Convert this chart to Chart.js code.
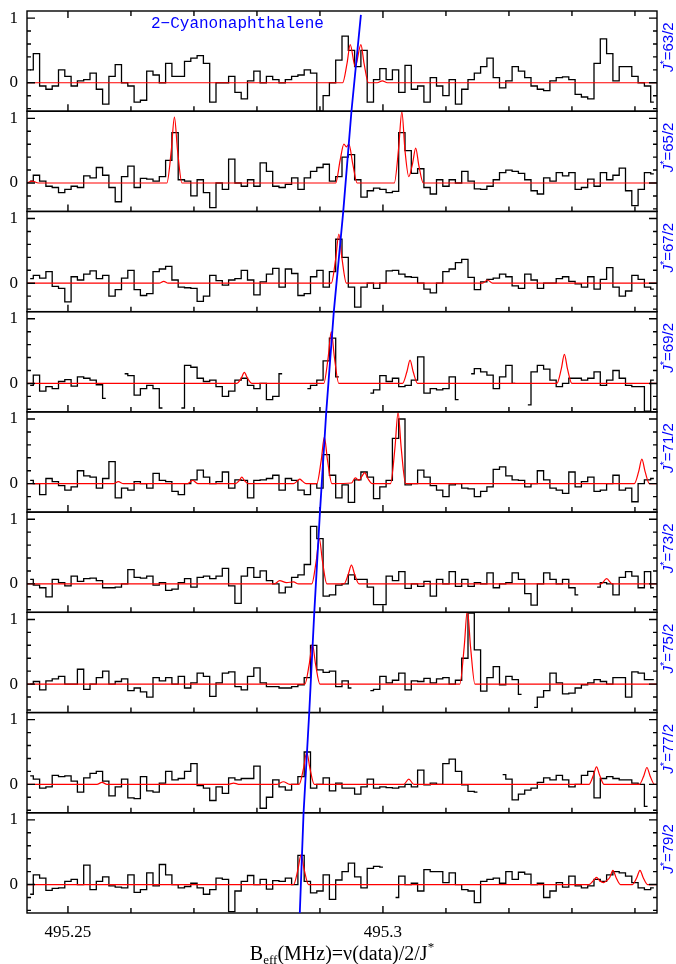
<!DOCTYPE html>
<html>
<head>
<meta charset="utf-8">
<script src="https://cdn.jsdelivr.net/npm/chart.js@4/dist/chart.umd.min.js"></script>
<style>
  html, body { margin: 0; padding: 0; background: #fff; }
  canvas { display: block; }
</style>
</head>
<body>
<canvas id="spec" width="676" height="964"></canvas>
<script>
// channel grid in B_eff (MHz), shared by all nine panels
const X_MIN = 495.2435, X_MAX = 495.3435, CHAN = 0.001;
const Y_MIN = -0.44, Y_MAX = 1.11;

const J_LABELS = ['63/2', '65/2', '67/2', '69/2', '71/2', '73/2', '75/2', '77/2', '79/2'];
const X_TICKS = [495.25, 495.26, 495.27, 495.28, 495.29, 495.30, 495.31, 495.32, 495.33, 495.34];
const X_MAJOR = [495.25, 495.30];
const X_LABELS = ['495.25', '495.3'];
const Y_TICKS = [-0.4, -0.2, 0, 0.2, 0.4, 0.6, 0.8, 1.0];
const Y_MAJOR = [0, 1];

// observed spectra, one value per channel (null = no data)
const spec63 = [0.2,0.45,-0.05,-0.1,-0.05,0.2,0.1,-0.05,0.03,0.05,
  0.15,-0.1,-0.33,0.1,0.28,0.0,-0.05,-0.3,-0.27,0.18,
  0.12,0.0,0.3,0.1,0.1,0.33,0.38,0.42,0.3,-0.3,
  0.0,0.0,0.1,-0.15,-0.25,0.03,0.18,0.0,0.1,0.05,
  0.0,0.05,0.1,0.12,0.2,0.15,-0.44,-0.2,0.0,0.35,
  0.72,0.5,0.25,0.5,-0.3,0.05,0.22,0.05,0.2,-0.15,
  0.27,-0.1,-0.05,-0.3,0.08,-0.05,-0.2,0.05,-0.33,-0.1,
  0.05,0.15,0.25,0.38,0.08,-0.08,0.03,0.25,0.18,0.08,
  -0.05,-0.1,-0.12,0.03,0.08,0.09,0.05,-0.18,-0.22,-0.25,
  0.3,0.68,0.45,0.03,0.25,0.25,0.1,0.0,-0.05,-0.3];
const spec65 = [0.03,0.12,0.03,-0.05,-0.07,-0.15,-0.1,-0.05,-0.07,0.11,
  0.08,0.24,0.12,-0.07,-0.29,0.1,0.26,-0.07,0.07,0.06,
  0.03,0.1,0.35,0.78,0.05,0.03,-0.2,0.05,-0.15,-0.38,
  0.0,-0.1,0.37,0.0,-0.05,0.05,-0.05,0.31,0.18,-0.05,
  -0.07,-0.02,0.08,-0.1,0.08,0.18,0.24,0.29,0.03,0.1,
  0.4,0.44,0.05,-0.22,-0.12,-0.08,-0.1,-0.15,-0.13,0.78,
  0.5,0.15,0.22,-0.07,-0.17,0.05,-0.05,0.05,0.0,0.18,
  0.03,-0.09,-0.1,-0.05,0.05,0.16,0.2,0.18,0.15,0.05,
  -0.12,-0.17,0.08,0.03,0.16,0.11,0.16,-0.1,-0.07,0.06,
  -0.05,0.16,0.05,0.12,0.23,-0.12,-0.35,-0.1,0.16,0.14];
const spec67 = [0.07,0.12,0.08,0.18,-0.05,-0.08,-0.29,0.1,0.05,0.14,
  0.19,0.07,0.12,-0.2,-0.1,0.08,0.2,-0.1,-0.19,-0.16,
  0.18,0.22,0.26,0.05,-0.06,-0.07,-0.08,-0.28,-0.2,0.12,
  0.04,-0.03,0.05,0.07,0.2,0.05,-0.18,0.02,0.14,0.23,
  -0.06,0.22,0.15,-0.19,-0.16,0.1,0.2,-0.06,0.18,0.68,
  0.4,-0.06,-0.37,-0.06,0.0,-0.08,0.0,0.19,0.2,0.14,
  0.1,0.09,0.0,-0.09,-0.15,0.0,0.18,0.22,0.32,0.37,
  0.09,-0.1,0.02,0.06,0.08,0.14,0.1,-0.04,-0.08,0.14,
  0.05,-0.08,0.0,0.0,0.07,0.1,0.03,-0.01,-0.06,0.1,
  -0.09,0.06,0.24,-0.06,-0.2,-0.12,0.12,0.06,-0.06,-0.09];
const spec69 = [-0.03,0.13,-0.12,-0.05,-0.08,0.03,0.06,-0.04,0.1,0.08,
  0.05,-0.02,-0.23,null,null,0.15,0.12,-0.18,-0.08,-0.03,
  -0.08,-0.38,null,null,-0.38,0.28,0.25,0.08,0.03,0.05,
  -0.05,-0.2,-0.12,0.05,0.08,-0.03,-0.08,0.0,-0.25,-0.2,
  0.15,null,null,null,-0.08,-0.03,0.05,0.35,0.7,0.1,
  null,null,null,null,-0.15,-0.1,0.12,0.03,0.08,-0.05,
  -0.03,0.05,0.41,-0.15,-0.08,-0.1,-0.08,0.1,-0.25,null,
  0.15,0.23,0.18,0.13,-0.08,0.1,0.28,0.0,null,-0.33,
  0.18,0.28,0.22,0.05,-0.05,0.0,0.08,0.08,0.05,0.08,
  0.18,-0.03,0.05,0.2,0.08,-0.03,-0.05,-0.05,-0.43,0.05];
const spec71 = [0.05,0.0,-0.17,0.08,0.03,-0.03,-0.1,-0.05,0.2,0.12,
  0.1,-0.07,0.08,0.34,-0.22,-0.07,-0.1,0.03,0.0,-0.07,
  0.16,0.05,0.03,-0.12,-0.17,0.0,0.06,0.21,0.1,0.0,
  0.03,0.18,-0.07,0.06,0.05,-0.22,0.05,0.06,0.08,0.13,
  -0.1,0.08,0.05,-0.1,-0.17,0.0,-0.07,0.45,0.13,-0.22,
  -0.02,-0.29,0.06,0.18,0.1,-0.23,-0.05,0.05,0.7,1.0,
  -0.02,0.0,0.21,0.1,-0.03,-0.1,-0.2,-0.02,0.0,-0.07,
  -0.08,-0.2,-0.12,-0.05,0.22,0.26,0.12,0.06,0.05,-0.05,
  0.0,0.2,0.06,-0.07,-0.1,-0.15,0.18,-0.05,0.03,0.1,
  -0.12,-0.1,0.0,0.13,-0.1,-0.07,-0.28,0.0,0.06,0.08];
const spec73 = [0.07,-0.02,-0.06,-0.2,0.07,0.02,-0.03,0.12,0.04,0.08,
  0.09,0.05,-0.06,-0.06,-0.05,0.0,0.22,0.1,0.09,0.12,
  -0.02,0.02,-0.1,-0.08,0.02,0.08,-0.05,0.1,0.12,0.08,
  0.12,0.24,-0.03,-0.3,0.12,0.25,0.1,0.2,0.05,0.0,
  -0.14,-0.05,0.1,0.14,0.3,0.89,0.7,-0.19,-0.17,-0.02,
  0.0,0.14,0.07,0.07,-0.05,-0.32,-0.32,0.12,0.05,0.19,
  -0.07,0.0,-0.04,0.04,-0.19,0.07,0.0,0.19,-0.04,0.07,
  -0.04,0.02,0.0,0.17,-0.06,0.0,0.02,0.17,0.07,-0.15,
  -0.33,0.0,0.17,0.07,0.0,0.07,-0.06,-0.17,null,null,
  -0.05,0.02,0.0,-0.17,0.1,0.19,0.12,-0.06,0.19,-0.06];
const spec75 = [0.0,0.04,-0.09,0.05,0.08,0.12,0.0,0.0,0.23,-0.08,
  0.0,0.1,0.2,0.0,0.04,0.08,-0.1,-0.06,-0.12,-0.2,
  0.1,0.05,0.1,0.0,0.12,-0.06,0.02,0.17,0.12,-0.19,
  0.02,0.17,0.19,-0.04,-0.09,0.12,0.25,0.02,-0.04,-0.04,
  -0.06,-0.06,-0.04,-0.01,0.1,0.6,0.22,0.18,0.2,-0.04,
  0.05,-0.06,null,null,-0.1,-0.08,0.12,0.02,0.06,0.17,
  -0.09,0.05,0.04,0.09,0.02,0.08,0.1,0.0,0.06,0.4,
  1.1,0.53,-0.11,0.1,0.27,-0.01,0.12,0.07,-0.16,null,
  -0.36,-0.2,-0.1,0.17,0.02,-0.15,-0.14,-0.06,-0.01,0.02,
  0.07,0.04,0.0,0.1,0.1,-0.2,0.19,0.17,0.07,0.07];
const spec77 = [0.13,0.08,-0.06,-0.04,0.14,0.12,0.13,0.05,-0.12,0.1,
  0.17,0.2,0.05,-0.18,-0.04,0.08,-0.21,-0.22,0.12,-0.1,
  -0.12,0.02,0.2,0.07,0.09,0.2,0.32,-0.02,-0.06,-0.25,
  -0.04,-0.14,0.1,0.07,0.09,0.09,0.28,-0.37,-0.2,0.07,
  -0.04,-0.09,0.0,0.12,0.5,-0.06,0.0,0.1,-0.1,0.02,
  -0.06,-0.06,-0.15,-0.04,0.08,-0.06,-0.04,-0.05,-0.06,-0.04,
  0.0,-0.04,0.22,-0.01,0.02,0.0,0.32,0.39,0.2,-0.01,
  -0.11,-0.12,null,null,null,0.15,0.08,-0.24,-0.15,-0.09,
  -0.06,0.03,0.1,0.07,0.14,0.07,-0.04,0.0,0.14,0.2,
  -0.21,0.09,0.12,0.09,0.07,0.07,0.02,0.0,-0.34,null];
const spec79 = [-0.15,0.15,0.1,-0.09,-0.06,-0.05,0.05,0.08,0.0,0.3,
  -0.08,0.05,0.12,-0.02,-0.04,-0.05,0.15,-0.12,-0.08,0.18,
  -0.02,0.31,0.15,0.0,-0.05,-0.03,0.02,-0.05,-0.15,-0.08,
  0.1,0.08,-0.42,-0.1,0.05,0.14,0.0,0.08,-0.07,0.06,
  0.05,0.1,0.0,0.45,0.05,-0.13,-0.1,0.15,-0.23,0.07,
  0.2,0.33,0.12,-0.05,0.25,0.28,0.27,null,-0.2,0.13,
  0.0,0.02,-0.1,0.23,0.2,0.2,0.03,0.18,0.0,-0.08,
  -0.1,-0.28,0.05,0.08,0.1,0.02,0.2,0.08,0.19,0.16,
  0.0,0.02,-0.2,-0.1,0.03,-0.04,0.13,-0.02,-0.05,-0.02,
  0.08,0.05,0.15,0.2,0.18,0.13,0.03,-0.05,-0.08,-0.05];

// model spectra as [B_eff, intensity] knots
const model63 = [[495.2435,0],[495.2936,0],[495.2943,0.3],[495.2948,0.59],[495.2956,0.25],[495.2965,0.59],
  [495.2970,0.3],[495.2977,0],[495.2991,0],[495.2999,0.03],[495.3007,0],[495.3435,0]];
const model65 = [[495.2435,0],[495.2443,0.03],[495.2453,0],[495.2657,0],[495.2664,0.5],[495.2669,1.02],
  [495.2674,0.5],[495.2681,0],[495.2925,0],[495.2932,0.35],[495.2938,0.6],[495.2942,0.56],[495.2946,0.6],
  [495.2952,0.3],[495.2959,0],[495.3018,0],[495.3025,0.55],[495.3030,1.1],[495.3035,0.5],[495.3041,0.1],
  [495.3047,0.3],[495.3052,0.54],[495.3057,0.27],[495.3064,0],[495.3435,0]];
const model67 = [[495.2435,0],[495.2645,0],[495.2652,0.03],[495.2659,0],[495.2918,0],[495.2925,0.38],
  [495.2930,0.76],[495.2935,0.38],[495.2942,0],[495.3158,0],[495.3166,0.05],[495.3174,0],[495.3435,0]];
const model69 = [[495.2435,0],[495.2768,0],[495.2775,0.08],[495.2780,0.17],[495.2785,0.08],[495.2792,0],
  [495.2906,0],[495.2913,0.4],[495.2918,0.8],[495.2923,0.4],[495.2930,0],[495.3031,0],[495.3038,0.18],
  [495.3043,0.36],[495.3048,0.18],[495.3055,0],[495.3276,0],[495.3283,0.22],[495.3288,0.45],[495.3293,0.22],
  [495.3300,0],[495.3435,0]];
const model71 = [[495.2435,0],[495.2572,0],[495.2580,0.03],[495.2588,0],[495.2690,0],[495.2698,0.05],
  [495.2706,0],[495.2766,0],[495.2772,0.05],[495.2776,0.1],[495.2780,0.05],[495.2786,0],[495.2858,0],
  [495.2864,0.04],[495.2868,0.07],[495.2872,0.04],[495.2878,0],[495.2895,0],[495.2902,0.36],[495.2907,0.72],
  [495.2912,0.36],[495.2919,0],[495.2950,0.01],[495.2956,0.09],[495.2962,0.05],[495.2967,0.12],[495.2971,0.17],
  [495.2976,0.08],[495.2983,0],[495.3012,0],[495.3019,0.55],[495.3024,1.1],[495.3029,0.55],[495.3036,0],
  [495.3399,0],[495.3406,0.19],[495.3411,0.38],[495.3416,0.19],[495.3423,0],[495.3435,0]];
const model73 = [[495.2435,0],[495.2828,0],[495.2836,0.05],[495.2847,0.02],[495.2858,0.03],[495.2866,0],
  [495.2887,0],[495.2894,0.35],[495.2899,0.7],[495.2904,0.35],[495.2911,0],[495.2938,0],[495.2945,0.15],
  [495.2950,0.29],[495.2955,0.15],[495.2962,0],[495.3346,0],[495.3355,0.08],[495.3364,0],[495.3435,0]];
const model75 = [[495.2435,0],[495.2876,0],[495.2883,0.31],[495.2888,0.62],[495.2893,0.31],[495.2900,0],
  [495.3122,0],[495.3129,0.58],[495.3134,1.15],[495.3139,0.58],[495.3146,0],[495.3435,0]];
const model77 = [[495.2435,0],[495.2546,0],[495.2554,0.03],[495.2562,0],[495.2755,0],[495.2763,0.02],
  [495.2771,0],[495.2832,0],[495.2842,0.04],[495.2852,0],[495.2867,0],[495.2874,0.25],[495.2879,0.5],
  [495.2884,0.25],[495.2891,0],[495.3033,0],[495.3041,0.08],[495.3049,0],[495.3327,0],[495.3334,0.14],
  [495.3339,0.27],[495.3344,0.14],[495.3351,0],[495.3407,0],[495.3414,0.13],[495.3419,0.26],[495.3424,0.13],
  [495.3431,0],[495.3435,0]];
const model79 = [[495.2435,0],[495.2858,0],[495.2865,0.23],[495.2870,0.46],[495.2875,0.23],[495.2882,0],
  [495.3327,0],[495.3334,0.06],[495.3339,0.11],[495.3344,0.06],[495.3350,0.03],[495.3355,0.06],[495.3360,0.11],
  [495.3365,0.22],[495.3370,0.11],[495.3377,0],[495.3396,0],[495.3403,0.11],[495.3408,0.22],[495.3413,0.11],
  [495.3420,0],[495.3435,0]];

// line position at each panel boundary, top of first panel down to bottom of last
const BLUE_X = [495.2965, 495.2950, 495.2937, 495.2922, 495.2910, 495.2900, 495.2891, 495.2883, 495.2874, 495.2868];
const BLUE_TOP = 1.05;

const SPECTRA = [spec63, spec65, spec67, spec69, spec71, spec73, spec75, spec77, spec79];
const MODELS = [model63, model65, model67, model69, model71, model73, model75, model77, model79];

const near = (a, b) => Math.abs(a - b) < 1e-6;

const datasets = [];
SPECTRA.forEach((vals, k) => {
  datasets.push({
    data: vals.map((v, i) => ({ x: X_MIN + (i + 0.5) * CHAN, y: v })),
    xAxisID: 'x', yAxisID: 'y' + k,
    stepped: 'middle', borderColor: '#000', borderWidth: 1.3,
    pointRadius: 0, order: 2
  });
  datasets.push({
    data: MODELS[k].map(p => ({ x: p[0], y: p[1] })),
    xAxisID: 'x', yAxisID: 'y' + k,
    cubicInterpolationMode: 'monotone', borderColor: '#ff0000', borderWidth: 1.2,
    pointRadius: 0, order: 1
  });
});

const scales = {
  x: {
    type: 'linear', position: 'bottom', min: X_MIN, max: X_MAX,
    grid: { display: false, drawTicks: false }, border: { display: false },
    ticks: { display: false },
    afterFit: s => { s.height = 51; s.paddingLeft = 0; s.paddingRight = 0; }
  }
};
// left-side stacks are laid out from the last-added axis down, so add the bottom panel first
for (let k = SPECTRA.length - 1; k >= 0; k--) {
  scales['y' + k] = {
    type: 'linear', position: 'left', stack: 'panels', stackWeight: 1,
    min: Y_MIN, max: Y_MAX,
    grid: { display: false, drawTicks: false }, border: { display: false },
    afterFit: s => { s.width = 27; s.paddingTop = 0; s.paddingBottom = 0; },
    ticks: {
      stepSize: 0.2, includeBounds: false, autoSkip: false, padding: 9,
      color: '#000', font: { family: 'Liberation Serif', size: 17 },
      callback: v => near(v, 1) ? '1' : near(v, 0) ? '0' : ''
    }
  };
}

function richText(ctx, parts, x, y, align) {
  let w = 0;
  parts.forEach(p => { ctx.font = p[1]; w += ctx.measureText(p[0]).width; });
  let cx = align === 'center' ? x - w / 2 : x;
  parts.forEach(p => {
    ctx.font = p[1];
    ctx.fillText(p[0], cx, y + p[2]);
    cx += ctx.measureText(p[0]).width;
  });
}

const panelFrames = {
  id: 'panelFrames',
  afterDatasetsDraw(chart) {
    const ctx = chart.ctx, xs = chart.scales.x;
    const L = xs.left, R = xs.right;
    ctx.save();
    ctx.strokeStyle = '#000';
    ctx.lineWidth = 1.4;
    SPECTRA.forEach((_, k) => {
      const ys = chart.scales['y' + k];
      ctx.strokeRect(L, ys.top, R - L, ys.bottom - ys.top);
      ctx.beginPath();
      X_TICKS.forEach(t => {
        const px = xs.getPixelForValue(t);
        const len = X_MAJOR.some(m => near(m, t)) ? 7 : 5;
        ctx.moveTo(px, ys.bottom); ctx.lineTo(px, ys.bottom - len);
        if (k === 0) { ctx.moveTo(px, ys.top); ctx.lineTo(px, ys.top + len); }
      });
      Y_TICKS.forEach(t => {
        const py = ys.getPixelForValue(t);
        const len = Y_MAJOR.some(m => near(m, t)) ? 8 : 4;
        ctx.moveTo(L, py); ctx.lineTo(L + len, py);
        ctx.moveTo(R, py); ctx.lineTo(R - len, py);
      });
      ctx.stroke();

      // J* label on the right of each panel
      ctx.save();
      ctx.fillStyle = '#0000ff';
      ctx.textBaseline = 'middle';
      ctx.translate(R + 12, ys.getPixelForValue(0.55));
      ctx.rotate(-Math.PI / 2);
      richText(ctx, [
        ['J', 'italic 15px "Liberation Sans"', 0],
        ['*', '11px "Liberation Sans"', -4],
        ['=' + J_LABELS[k], '15px "Liberation Sans"', 0]
      ], 0, 0, 'center');
      ctx.restore();
    });

    // x tick labels under the bottom panel
    const yb = chart.scales['y' + (SPECTRA.length - 1)].bottom;
    ctx.fillStyle = '#000';
    ctx.font = '17px "Liberation Serif"';
    ctx.textAlign = 'center';
    ctx.textBaseline = 'middle';
    X_MAJOR.forEach((t, i) => ctx.fillText(X_LABELS[i], xs.getPixelForValue(t), yb + 20));
    ctx.textAlign = 'left';

    // B_eff track across all panels
    const n = SPECTRA.length;
    ctx.beginPath();
    ctx.strokeStyle = '#0000ff';
    ctx.lineWidth = 1.8;
    BLUE_X.forEach((bx, k) => {
      const px = xs.getPixelForValue(bx);
      let py;
      if (k === 0) py = chart.scales.y0.getPixelForValue(BLUE_TOP);
      else if (k === n) py = chart.scales['y' + (n - 1)].bottom;
      else py = chart.scales['y' + k].top;
      if (k === 0) ctx.moveTo(px, py); else ctx.lineTo(px, py);
    });
    ctx.stroke();

    ctx.fillStyle = '#0000ff';
    ctx.textBaseline = 'alphabetic';
    ctx.font = '16px "Liberation Mono"';
    ctx.fillText('2\u2212Cyanonaphthalene', 151, 28);

    ctx.fillStyle = '#000';
    richText(ctx, [
      ['B', '20px "Liberation Serif"', 0],
      ['eff', '13px "Liberation Serif"', 4],
      ['(MHz)=\u03bd(data)/2/J', '20px "Liberation Serif"', 0],
      ['*', '13px "Liberation Serif"', -9]
    ], (L + R) / 2, 960, 'center');
    ctx.restore();
  }
};

new Chart(document.getElementById('spec'), {
  type: 'line',
  data: { datasets },
  options: {
    responsive: false,
    animation: false,
    events: [],
    layout: { padding: { left: 0, right: 19, top: 11, bottom: 0 } },
    plugins: { legend: { display: false }, tooltip: { enabled: false } },
    scales
  },
  plugins: [panelFrames]
});
</script>
</body>
</html>
